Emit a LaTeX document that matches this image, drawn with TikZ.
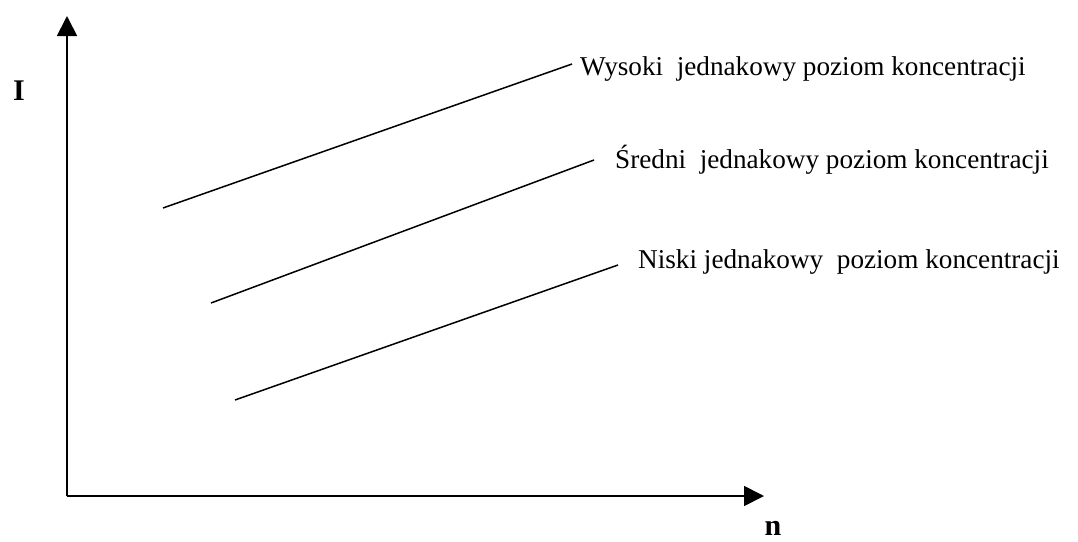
\documentclass[tikz,border=0pt]{standalone}
\usepackage{fontspec}
\setmainfont{Liberation Serif}
\usetikzlibrary{arrows.meta}
\begin{document}
\begin{tikzpicture}[x=1pt,y=-1pt,
  axis/.style={line width=1.8pt,-{Triangle[length=20pt,width=20pt]}},
  curve/.style={line width=1.5pt},
  lbl/.style={anchor=base west,inner sep=0pt,font=\fontsize{27.2}{32}\selectfont},
  axlbl/.style={inner sep=0pt,font=\fontsize{30}{34}\selectfont\bfseries}]
\useasboundingbox (0,0) rectangle (1078,541);
\coordinate (O) at (67,496);
\coordinate (Ytop) at (67,16);
\coordinate (Xend) at (764,496);
\draw[axis] (O) -- (Ytop);
\draw[axis] (O) -- (Xend);
\node[axlbl,anchor=base] (I) at (19,100) {I};
\node[axlbl,anchor=south] (n) at (773,536) {n};
\node[lbl] (hi) at (580,75) {Wysoki\ \ jednakowy poziom koncentracji};
\node[lbl] (mid) at (615,168) {Średni\ \ jednakowy poziom koncentracji};
\node[lbl] (lo) at (638,268) {Niski jednakowy\ \ poziom koncentracji};
\coordinate (a1) at (163,208);
\coordinate (b1) at (572,64);
\coordinate (a2) at (211,303);
\coordinate (b2) at (594,160);
\coordinate (a3) at (235,400);
\coordinate (b3) at (618,265);
\draw[curve] (a1) -- (b1);
\draw[curve] (a2) -- (b2);
\draw[curve] (a3) -- (b3);
\end{tikzpicture}
\end{document}
